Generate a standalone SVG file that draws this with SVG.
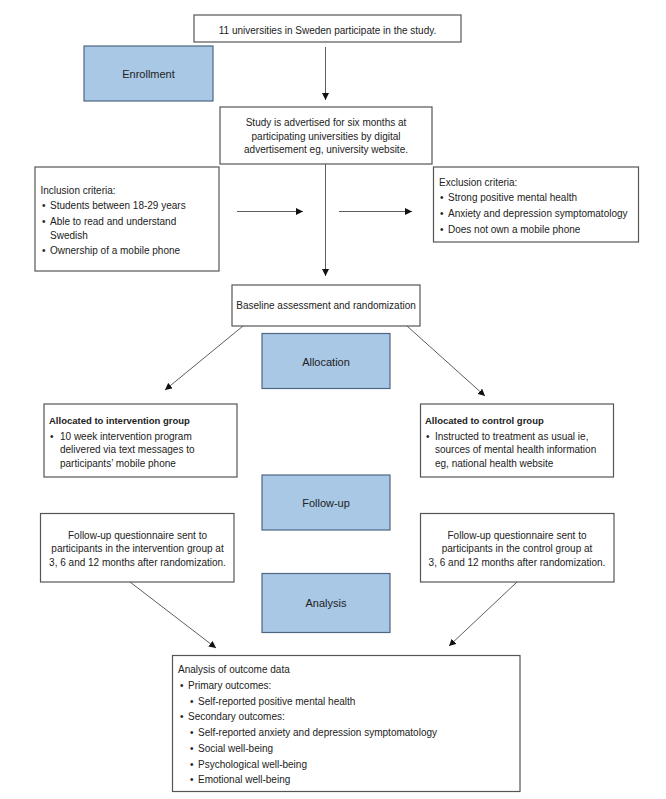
<svg xmlns="http://www.w3.org/2000/svg" width="666" height="799" viewBox="0 0 666 799">
<style>
.box{fill:#fff;stroke:#555;stroke-width:1.2}
.phase{fill:#a8c8e6;stroke:#4e6680;stroke-width:1.2}
text{font-family:"Liberation Sans",Arial,sans-serif;font-size:10px;fill:#222}
.c{text-anchor:middle}
.ph{font-size:11px}
.b{font-weight:bold;font-size:9.5px}
.con{stroke:#333;stroke-width:0.8;fill:none}
</style>
<defs>
<marker id="ah" viewBox="0 0 10 10" refX="10" refY="5" markerWidth="7" markerHeight="7" markerUnits="userSpaceOnUse" orient="auto">
<path d="M0,0 L10,5 L0,10 z" fill="#111"/>
</marker>
</defs>
<rect width="666" height="799" fill="#fff"/>
<g id="connectors">
<line class="con" x1="325.5" y1="47" x2="325.5" y2="100" marker-end="url(#ah)"/>
<line class="con" x1="325.5" y1="164" x2="325.5" y2="276" marker-end="url(#ah)"/>
<line class="con" x1="237" y1="211.5" x2="303" y2="211.5" marker-end="url(#ah)"/>
<line class="con" x1="339" y1="211.5" x2="412" y2="211.5" marker-end="url(#ah)"/>
<line class="con" x1="243" y1="326" x2="165" y2="390" marker-end="url(#ah)"/>
<line class="con" x1="407" y1="326" x2="485" y2="396" marker-end="url(#ah)"/>
<line class="con" x1="130" y1="582" x2="216" y2="648" marker-end="url(#ah)"/>
<line class="con" x1="517" y1="582" x2="449" y2="646" marker-end="url(#ah)"/>
</g>
<g id="n_universities">
<rect class="box" x="194" y="15" width="267" height="27"/>
<text class="c" x="327.5" y="34">11 universities in Sweden participate in the study.</text>
</g>
<g id="n_enrollment">
<rect class="phase" x="84" y="46" width="129" height="55"/>
<text class="c ph" x="148.5" y="77.5">Enrollment</text>
</g>
<g id="n_advertised">
<rect class="box" x="220" y="107" width="212" height="57"/>
<text class="c" x="326" y="126">Study is advertised for six months at</text>
<text class="c" x="326" y="139.5">participating universities by digital</text>
<text class="c" x="326" y="153">advertisement eg, university website.</text>
</g>
<g id="n_inclusion">
<rect class="box" x="35" y="167" width="184" height="104"/>
<text x="40.5" y="194">Inclusion criteria:</text>
<text x="42" y="209">•</text><text x="50" y="209">Students between 18-29 years</text>
<text x="42" y="224.5">•</text><text x="50" y="224.5">Able to read and understand</text>
<text x="50" y="238.5">Swedish</text>
<text x="42" y="254">•</text><text x="50" y="254">Ownership of a mobile phone</text>
</g>
<g id="n_exclusion">
<rect class="box" x="433.5" y="167" width="205" height="75"/>
<text x="439" y="186">Exclusion criteria:</text>
<text x="440" y="200.5">•</text><text x="448" y="200.5">Strong positive mental health</text>
<text x="440" y="216.5">•</text><text x="448" y="216.5">Anxiety and depression symptomatology</text>
<text x="440" y="232.5">•</text><text x="448" y="232.5">Does not own a mobile phone</text>
</g>
<g id="n_baseline">
<rect class="box" x="232" y="285" width="188" height="41"/>
<text class="c" x="326" y="309">Baseline assessment and randomization</text>
</g>
<g id="n_allocation">
<rect class="phase" x="262" y="333.5" width="128" height="55"/>
<text class="c ph" x="326" y="365.5">Allocation</text>
</g>
<g id="n_intervention">
<rect class="box" x="44" y="404" width="193" height="73"/>
<text class="b" x="49" y="423.5">Allocated to intervention group</text>
<text x="50" y="440">•</text><text x="60" y="440">10 week intervention program</text>
<text x="60" y="453">delivered via text messages to</text>
<text x="60" y="466.5">participants’ mobile phone</text>
</g>
<g id="n_control">
<rect class="box" x="420.5" y="404" width="193" height="73"/>
<text class="b" x="425" y="423.5">Allocated to control group</text>
<text x="426" y="440">•</text><text x="435" y="440">Instructed to treatment as usual ie,</text>
<text x="435" y="453">sources of mental health information</text>
<text x="435" y="466.5">eg, national health website</text>
</g>
<g id="n_followup">
<rect class="phase" x="262" y="475" width="128" height="55"/>
<text class="c ph" x="326" y="507">Follow-up</text>
</g>
<g id="n_fu_intervention">
<rect class="box" x="40.5" y="513.5" width="193.5" height="68.5"/>
<text class="c" x="137.5" y="538.5">Follow-up questionnaire sent to</text>
<text class="c" x="137.5" y="552">participants in the intervention group at</text>
<text class="c" x="137.5" y="565.5">3, 6 and 12 months after randomization.</text>
</g>
<g id="n_fu_control">
<rect class="box" x="420.5" y="513.5" width="193.5" height="68.5"/>
<text class="c" x="517" y="538.5">Follow-up questionnaire sent to</text>
<text class="c" x="517" y="552">participants in the control group at</text>
<text class="c" x="517" y="565.5">3, 6 and 12 months after randomization.</text>
</g>
<g id="n_analysis_phase">
<rect class="phase" x="262" y="573.5" width="128" height="59"/>
<text class="c ph" x="326" y="607">Analysis</text>
</g>
<g id="n_analysis">
<rect class="box" x="172.5" y="655.5" width="347.5" height="136"/>
<text x="178" y="672.5">Analysis of outcome data</text>
<text x="180" y="689">•</text><text x="188" y="689">Primary outcomes:</text>
<text x="190" y="704.5">•</text><text x="198" y="704.5">Self-reported positive mental health</text>
<text x="180" y="720">•</text><text x="188" y="720">Secondary outcomes:</text>
<text x="190" y="736">•</text><text x="198" y="736">Self-reported anxiety and depression symptomatology</text>
<text x="190" y="751.5">•</text><text x="198" y="751.5">Social well-being</text>
<text x="190" y="767.5">•</text><text x="198" y="767.5">Psychological well-being</text>
<text x="190" y="783">•</text><text x="198" y="783">Emotional well-being</text>
</g>
</svg>
